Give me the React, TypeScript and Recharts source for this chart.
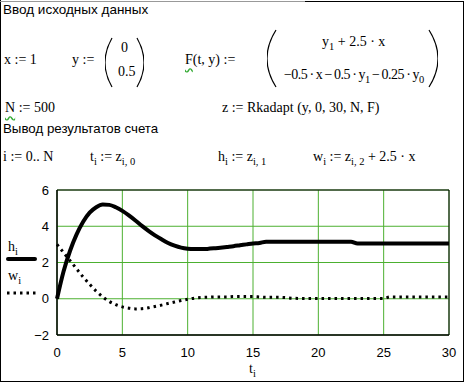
import React from 'react'
import { LineChart, Line, XAxis, YAxis, CartesianGrid, ReferenceArea } from 'recharts'

// t values (step 0.5)
const T = [
  0, 0.5, 1, 1.5, 2, 2.5, 3, 3.5, 4, 4.5, 5, 5.5, 6, 6.5, 7, 7.5, 8, 8.5, 9, 9.5,
  10, 10.5, 11, 11.5, 12, 12.5, 13, 13.5, 14, 14.5, 15, 15.5, 16, 16.5, 17, 17.5, 18, 18.5, 19, 19.5,
  20, 20.5, 21, 21.5, 22, 22.5, 23, 23.5, 24, 24.5, 25, 25.5, 26, 26.5, 27, 27.5, 28, 28.5, 29, 29.5, 30,
]

// h_i (solid)
const H = [
  0, 1.5, 2.65, 3.55, 4.25, 4.75, 5.05, 5.2, 5.18, 5.05, 4.85, 4.6, 4.32, 4.02, 3.75, 3.5, 3.28, 3.08, 2.93, 2.82,
  2.76, 2.74, 2.74, 2.75, 2.78, 2.82, 2.86, 2.9, 2.95, 3.0, 3.05, 3.08, 3.15, 3.15, 3.15, 3.15, 3.15, 3.15, 3.15, 3.15,
  3.15, 3.15, 3.15, 3.15, 3.15, 3.15, 3.05, 3.05, 3.05, 3.05, 3.05, 3.05, 3.05, 3.05, 3.05, 3.05, 3.05, 3.05, 3.05, 3.05, 3.05,
]

// w_i (dotted)
const W = [
  3.0, 2.55, 2.1, 1.65, 1.2, 0.8, 0.42, 0.1, -0.15, -0.33, -0.45, -0.52, -0.56, -0.55, -0.5, -0.43, -0.35, -0.26, -0.18, -0.1,
  -0.03, 0.03, 0.07, 0.08, 0.1, 0.1, 0.1, 0.12, 0.12, 0.12, 0.12, 0.1, 0.08, 0.08, 0.08, 0.06, 0.03, 0.02, 0.02, 0.02,
  0.02, 0.02, 0.02, 0.02, 0.02, 0.02, 0.02, 0.02, 0.02, 0.02, 0.02, 0.1, 0.1, 0.1, 0.1, 0.1, 0.1, 0.1, 0.1, 0.1, 0.1,
]

const X_TICKS = [0, 5, 10, 15, 20, 25, 30]
const Y_TICKS = [-2, 0, 2, 4, 6]

const data = T.map((t, i) => ({ t, h: H[i], w: W[i] }))

const serif = '"Liberation Serif", "Times New Roman", serif'
const sans = '"Liberation Sans", Arial, sans-serif'
const GRID = '#4cb030'
const TS = '\u2009'

// baseline-positioned text
function Txt({ x, base, size = 14, font = serif, ls = 0, children }: any) {
  const k = font === serif ? 0.8375 : 0.8465
  return (
    <div style={{ position: 'absolute', left: x, top: base - size * k, fontSize: size, fontFamily: font, lineHeight: 1, whiteSpace: 'nowrap', color: '#000', letterSpacing: ls }}>
      {children}
    </div>
  )
}

const Sub = ({ children }: any) => (
  <span style={{ fontSize: 10.5, position: 'relative', top: 4 }}>{children}</span>
)

const Wavy = ({ children }: any) => (
  <span style={{ textDecoration: 'underline wavy #3a3', textUnderlineOffset: 3 }}>{children}</span>
)

function Paren({ x, y, w, h, right = false }: any) {
  const d = right
    ? `M1,1 Q${w * 2 - 1},${h / 2} 1,${h - 1}`
    : `M${w - 1},1 Q${1 - w},${h / 2} ${w - 1},${h - 1}`
  return (
    <svg style={{ position: 'absolute', left: x, top: y }} width={w} height={h}>
      <path d={d} fill="none" stroke="#000" strokeWidth={1.2} />
    </svg>
  )
}

export default function App() {
  return (
    <div style={{ position: 'absolute', left: 0, top: 0, width: 467, height: 384, background: '#fff', overflow: 'hidden' }}>
      <div style={{ position: 'absolute', left: 0, top: 0 }}>
        <LineChart width={467} height={384} data={data} margin={{ top: 190, right: 18, bottom: 19, left: 17 }}>
          <CartesianGrid stroke={GRID} />
          <XAxis
            type="number"
            dataKey="t"
            domain={[0, 30]}
            ticks={X_TICKS}
            interval={0}
            height={30}
            tickLine={false}
            tickMargin={7}
            axisLine={{ stroke: '#000' }}
            tick={{ fill: '#000', fontSize: 13, fontFamily: sans }}
          />
          <YAxis
            type="number"
            domain={[-2, 6]}
            ticks={Y_TICKS}
            interval={0}
            width={40}
            tickLine={false}
            tickMargin={2}
            axisLine={{ stroke: '#000' }}
            tick={{ fill: '#000', fontSize: 13, fontFamily: sans }}
            tickFormatter={(v: number) => String(v).replace('-', '\u2212')}
          />
          <ReferenceArea x1={0} x2={30} y1={-2} y2={6} stroke="#000" fill="none" fillOpacity={0} />
          <Line type="monotone" dataKey="w" stroke="#000" strokeWidth={3} strokeDasharray="2.5 4" dot={false} isAnimationActive={false} />
          <Line type="monotone" dataKey="h" stroke="#000" strokeWidth={4} dot={false} isAnimationActive={false} />
        </LineChart>
      </div>

      {/* outer frame */}
      <div style={{ position: 'absolute', left: 0, top: 0, width: 1, height: 382, background: '#000' }} />
      <div style={{ position: 'absolute', left: 463, top: 1, width: 1, height: 381, background: '#000' }} />
      <div style={{ position: 'absolute', left: 0, top: 381, width: 464, height: 1, background: '#000' }} />
      <div style={{ position: 'absolute', left: 0, top: 1, width: 305, height: 1, background: '#999' }} />
      <div style={{ position: 'absolute', left: 305, top: 1, width: 159, height: 1, background: '#000' }} />

      <Txt x={3} base={14.5} size={13.5} font={sans}>Ввод исходных данных</Txt>

      <Txt x={4} base={65}>x := 1</Txt>

      <Txt x={72} base={65}>y :=</Txt>
      <Paren x={105} y={37} w={8} h={51} />
      <Txt x={121} base={53}>0</Txt>
      <Txt x={118} base={77}>0.5</Txt>
      <Paren x={136} y={37} w={8} h={51} right />

      <Txt x={185} base={65}><Wavy>F</Wavy>(t, y) :=</Txt>
      <Paren x={267} y={29} w={10} h={59} />
      <Txt x={322} base={47}>y<Sub>1</Sub> + 2.5 · x</Txt>
      <Txt x={284} base={80} ls={-0.55}>
        {`−0.5${TS}·${TS}x${TS}−${TS}0.5${TS}·${TS}y`}<Sub>1</Sub>{`${TS}−${TS}0.25${TS}·${TS}y`}<Sub>0</Sub>
      </Txt>
      <Paren x={428} y={29} w={10} h={59} right />

      <Txt x={5} base={113}><Wavy>N</Wavy> := 500</Txt>
      <Txt x={222} base={113}>z := Rkadapt (y, 0, 30, N, F)</Txt>

      <Txt x={3} base={133.5} size={13.3} font={sans}>Вывод результатов счета</Txt>

      <Txt x={3} base={162}>i := 0.. N</Txt>
      <Txt x={90} base={162}>t<Sub>i</Sub> := z<Sub>i, 0</Sub></Txt>
      <Txt x={218} base={162}>h<Sub>i</Sub> := z<Sub>i, 1</Sub></Txt>
      <Txt x={313} base={162}>w<Sub>i</Sub> := z<Sub>i, 2</Sub> + 2.5 · x</Txt>

      {/* legend */}
      <Txt x={8} base={252}>h<Sub>i</Sub></Txt>
      <div style={{ position: 'absolute', left: 6, top: 257, width: 31, height: 4, background: '#000', borderRadius: 2 }} />
      <Txt x={8} base={281}>w<Sub>i</Sub></Txt>
      <svg style={{ position: 'absolute', left: 6, top: 290 }} width={32} height={6}>
        <line x1={1} y1={3} x2={31} y2={3} stroke="#000" strokeWidth={3} strokeDasharray="2.5 4" />
      </svg>

      {/* x axis title */}
      <Txt x={249} base={374}>t<Sub>i</Sub></Txt>
    </div>
  )
}
